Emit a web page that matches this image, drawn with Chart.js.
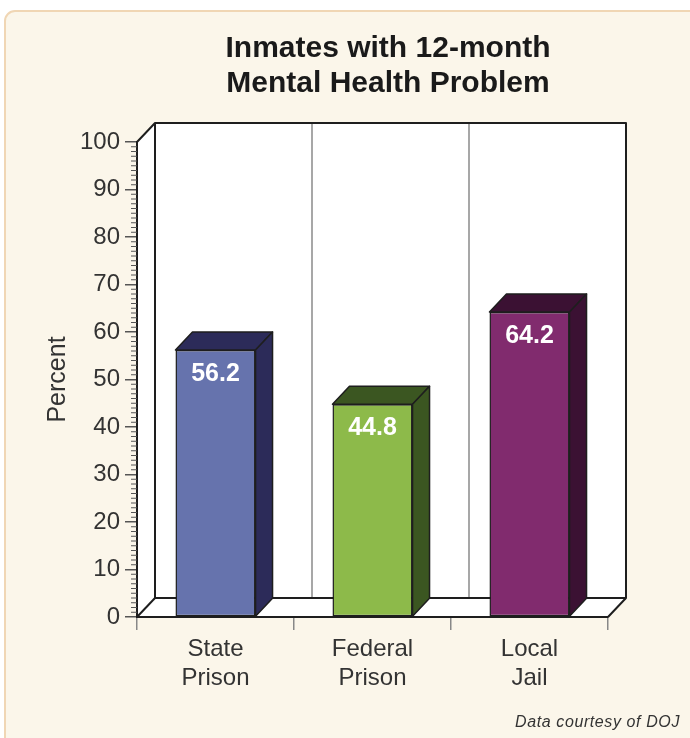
<!DOCTYPE html>
<html><head><meta charset="utf-8">
<script src="https://cdn.jsdelivr.net/npm/chart.js@4.4.0/dist/chart.umd.min.js"></script>
<style>html,body{margin:0;padding:0;background:#fff;}#wrap{width:690px;height:738px;position:relative;}</style>
</head><body><div id="wrap"><canvas id="c"></canvas></div>
<script>
const categories = [['State','Prison'],['Federal','Prison'],['Local','Jail']];
const percentValues = [56.2, 44.8, 64.2];
const yMin = 0, yMax = 100, yStep = 10;
const titleLines = ['Inmates with 12-month','Mental Health Problem'];
const yAxisTitle = 'Percent';
const footnote = 'Data courtesy of DOJ';
const frontColors = ['#6673ad','#8dba4a','#812b6e'];
const darkColors = ['#2c2b59','#3b5621','#3b1133'];

const FONT = "'Liberation Sans', Arial, Helvetica, sans-serif";
const DX = 18, DY = -19;   // wall depth
const BDX = 17, BDY = -18; // bar depth
const EDGE = '#1e1e1e';

function line(ctx, pts, color, w){
  ctx.save(); ctx.beginPath(); ctx.moveTo(pts[0][0], pts[0][1]);
  for (let i=1;i<pts.length;i++) ctx.lineTo(pts[i][0], pts[i][1]);
  ctx.strokeStyle = color; ctx.lineWidth = w; ctx.lineJoin='round'; ctx.stroke(); ctx.restore();
}
function poly(ctx, pts, fill, stroke, w){
  ctx.save(); ctx.beginPath(); ctx.moveTo(pts[0][0], pts[0][1]);
  for (let i=1;i<pts.length;i++) ctx.lineTo(pts[i][0], pts[i][1]);
  ctx.closePath(); ctx.fillStyle = fill; ctx.fill();
  if (stroke){ ctx.strokeStyle = stroke; ctx.lineWidth = w; ctx.lineJoin='round'; ctx.stroke(); }
  ctx.restore();
}

const box3d = {
  id: 'box3d',
  beforeDraw(chart){
    const ctx = chart.ctx;
    const {left, right, top, bottom} = chart.chartArea;
    ctx.save();
    ctx.fillStyle = '#ffffff'; ctx.fillRect(0,0,chart.width,chart.height);
    // panel
    ctx.beginPath();
    ctx.roundRect(5, 11, 720, 760, 10);
    ctx.fillStyle = '#fbf6ea'; ctx.fill();
    ctx.strokeStyle = '#f0d6b4'; ctx.lineWidth = 2; ctx.stroke();
    ctx.restore();
    // walls
    poly(ctx, [[left+DX,top+DY],[right+DX,top+DY],[right+DX,bottom+DY],[left+DX,bottom+DY]], '#ffffff');
    poly(ctx, [[left,top],[left+DX,top+DY],[left+DX,bottom+DY],[left,bottom]], '#ffffff');
    poly(ctx, [[left,bottom],[left+DX,bottom+DY],[right+DX,bottom+DY],[right,bottom]], '#ffffff');
    // dividers on back wall
    const xs = chart.scales.x;
    for (let i=0;i<categories.length-1;i++){
      const bx = (xs.getPixelForValue(i) + xs.getPixelForValue(i+1))/2 + DX;
      line(ctx, [[bx, top+DY],[bx, bottom+DY]], '#8a8a8a', 1.5);
    }
    // outlines
    line(ctx, [[left,top],[left+DX,top+DY],[right+DX,top+DY],[right+DX,bottom+DY],[right,bottom]], EDGE, 2);
    line(ctx, [[left+DX,top+DY],[left+DX,bottom+DY],[right+DX,bottom+DY]], EDGE, 2);
    line(ctx, [[left,bottom],[left+DX,bottom+DY]], EDGE, 2);
  },
  afterDatasetsDraw(chart){
    const ctx = chart.ctx;
    const meta = chart.getDatasetMeta(0);
    meta.data.forEach((bar, i) => {
      const x0 = bar.x - bar.width/2, x1 = bar.x + bar.width/2;
      const yt = bar.y, yb = bar.base;
      poly(ctx, [[x0,yt],[x0+BDX,yt+BDY],[x1+BDX,yt+BDY],[x1,yt]], darkColors[i], EDGE, 1.5);
      poly(ctx, [[x1,yt],[x1+BDX,yt+BDY],[x1+BDX,yb+BDY],[x1,yb]], darkColors[i], EDGE, 1.5);
      ctx.save();
      ctx.font = 'bold 25px ' + FONT;
      ctx.fillStyle = '#ffffff'; ctx.textAlign = 'center'; ctx.textBaseline = 'alphabetic';
      ctx.fillText(percentValues[i].toFixed(1), bar.x, yt + 31);
      ctx.restore();
    });
  },
  afterDraw(chart){
    const ctx = chart.ctx;
    const ys = chart.scales.y;
    const left = chart.chartArea.left;
    for (let v = yMin; v <= yMax; v++){
      if (v % yStep === 0) continue;
      const py = ys.getPixelForValue(v);
      line(ctx, [[left-6, py],[left, py]], '#555', 1);
    }
    ctx.save();
    ctx.fillStyle = '#1a1a1a'; ctx.textAlign = 'center'; ctx.textBaseline = 'alphabetic';
    ctx.font = 'bold 30px ' + FONT;
    ctx.fillText(titleLines[0], 388, 57);
    ctx.fillText(titleLines[1], 388, 92);
    ctx.font = 'italic 16px ' + FONT;
    ctx.fillStyle = '#333'; ctx.textAlign = 'right';
    try { ctx.letterSpacing = '0.6px'; } catch(e) {}
    ctx.fillText(footnote, 680, 727);
    ctx.restore();
  }
};

new Chart(document.getElementById('c'), {
  type: 'bar',
  data: {
    labels: categories,
    datasets: [{
      data: percentValues,
      backgroundColor: frontColors,
      borderColor: EDGE,
      borderWidth: 1.5,
      borderSkipped: false,
      barPercentage: 1,
      categoryPercentage: 0.51
    }]
  },
  options: {
    responsive: true,
    maintainAspectRatio: false,
    animation: false,
    events: [],
    layout: { padding: { top: 142, left: 30, right: 82, bottom: 0 } },
    plugins: { legend: { display: false }, title: { display: false }, tooltip: { enabled: false } },
    scales: {
      x: {
        grid: { drawOnChartArea: false, tickLength: 13, color: '#888', lineWidth: 1.5, offset: true },
        border: { display: true, color: EDGE, width: 2 },
        ticks: { font: { family: FONT, size: 24, lineHeight: 1.2 }, color: '#333', padding: 5, maxRotation: 0, autoSkip: false },
        afterFit(s){ s.height = 121; }
      },
      y: {
        min: yMin, max: yMax,
        ticks: { stepSize: yStep, font: { family: FONT, size: 24 }, color: '#333', padding: 5 },
        grid: { drawOnChartArea: false, tickLength: 12, color: '#555', lineWidth: 1.5 },
        border: { display: true, color: EDGE, width: 2 },
        title: { display: true, text: yAxisTitle, font: { family: FONT, size: 25 }, color: '#333', padding: { top: 13, bottom: 0 } },
        afterFit(s){ s.width = 107; }
      }
    }
  },
  plugins: [box3d]
});
</script></body></html>
